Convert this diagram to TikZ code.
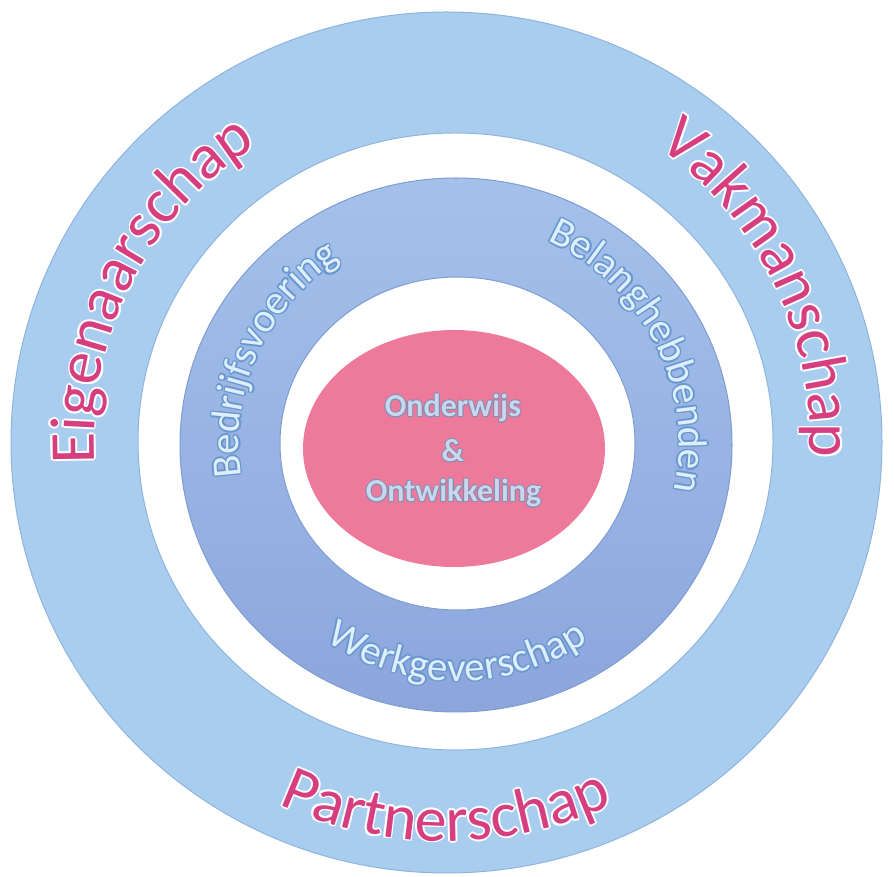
\documentclass[tikz,border=0pt]{standalone}
\usepackage{fontspec}
\setmainfont{Carlito}
\usetikzlibrary{decorations.text}
\definecolor{outerblue}{HTML}{A9CDEF}
\definecolor{outeredge}{HTML}{8FB4DC}
\definecolor{midtop}{HTML}{A4C1EB}
\definecolor{midbot}{HTML}{8CA6DC}
\definecolor{midedge}{HTML}{7F9CD0}
\definecolor{pinkfill}{HTML}{EE7A9B}
\definecolor{pinktext}{HTML}{D63E80}
\definecolor{ringtext}{HTML}{DDEFFB}
\definecolor{ringedge}{HTML}{6A97D0}
\definecolor{centertext}{HTML}{C9D6EC}
\definecolor{centeredge}{HTML}{7E8EB4}
\newcommand\fmtOuter{\fontsize{64}{64}\selectfont\color{pinktext}}
\newcommand\glowOuter{\fontsize{64}{64}\selectfont\color{white}}
\newcommand\fmtRing{\fontsize{41}{41}\selectfont\color{ringtext}}
\newcommand\glowRing{\fontsize{41}{41}\selectfont\color{ringedge}}
% #1 cx, #2 cy, #3 radius, #4 start, #5 end, #6 format, #7 glow format, #8 text, #9 glow offset
\newcommand\arcword[9]{%
  \foreach \gx/\gy in {1/0,-1/0,0/1,0/-1,0.71/0.71,-0.71/0.71,0.71/-0.71,-0.71/-0.71}{%
    \path[transform canvas={shift={(\gx*#9,\gy*#9)}},postaction={decorate},
      decoration={text along path,text align=center,text={|#7|#8}}]
      (#1,#2) ++(#4:#3) arc[start angle=#4,end angle=#5,radius=#3];
  }%
  \path[postaction={decorate},decoration={text along path,text align=center,text={|#6|#8}}]
    (#1,#2) ++(#4:#3) arc[start angle=#4,end angle=#5,radius=#3];
}
\begin{document}
\begin{tikzpicture}[x=1pt,y=1pt,
  centerfont/.style={font=\fontsize{32}{32}\selectfont\bfseries, anchor=base, inner sep=0pt}]
\useasboundingbox (0,0) rectangle (894,876);
\fill[white] (0,0) rectangle (894,876);
% rings
\fill[outerblue, draw=outeredge, line width=1] (446.5,433.5) ellipse [x radius=435.5, y radius=430.5];
\fill[white, draw=outeredge, line width=1] (455.5,434.5) ellipse [x radius=317.5, y radius=308.5];
\shade[top color=midtop, bottom color=midbot] (456,431) ellipse [x radius=276, y radius=267];
\draw[midedge, line width=1] (456,431) ellipse [x radius=276, y radius=267];
\fill[white, draw=midedge, line width=1] (457.5,432.5) ellipse [x radius=177.5, y radius=166.5];
\fill[pinkfill] (454,427.5) ellipse [x radius=151, y radius=118.5];
% outer ring words
\arcword{446}{434}{352}{213}{93}{\fmtOuter}{\glowOuter}{Eigenaarschap}{1.8}
\arcword{446}{434}{364}{86}{-34}{\fmtOuter}{\glowOuter}{Vakmanschap}{1.8}
\arcword{446}{434}{399}{210}{330}{\fmtOuter}{\glowOuter}{Partnerschap}{1.8}
% middle ring words
\arcword{457}{432}{218}{215.5}{95.5}{\fmtRing}{\glowRing}{Bedrijfsvoering}{1.5}
\arcword{457}{432}{222}{87}{-33}{\fmtRing}{\glowRing}{Belanghebbenden}{1.5}
\arcword{457}{432}{237}{210}{330}{\fmtRing}{\glowRing}{Werkgeverschap}{1.5}
% centre words
\foreach \gx/\gy [count=\i] in {1/0,-1/0,0/1,0/-1,0.71/0.71,-0.71/0.71,0.71/-0.71,-0.71/-0.71}{%
  \node[centerfont, text=centeredge] (ga\i) at (453+\gx,459+\gy) {Onderwijs};
  \node[centerfont, text=centeredge] (gb\i) at (453+\gx,414+\gy) {\&};
  \node[centerfont, text=centeredge] (gc\i) at (453.5+\gx,374+\gy) {Ontwikkeling};
}
\node[centerfont, text=centertext] (onderwijs) at (453,459) {Onderwijs};
\node[centerfont, text=centertext] (en) at (453,414) {\&};
\node[centerfont, text=centertext] (ontwikkeling) at (453.5,374) {Ontwikkeling};
\end{tikzpicture}
\end{document}
